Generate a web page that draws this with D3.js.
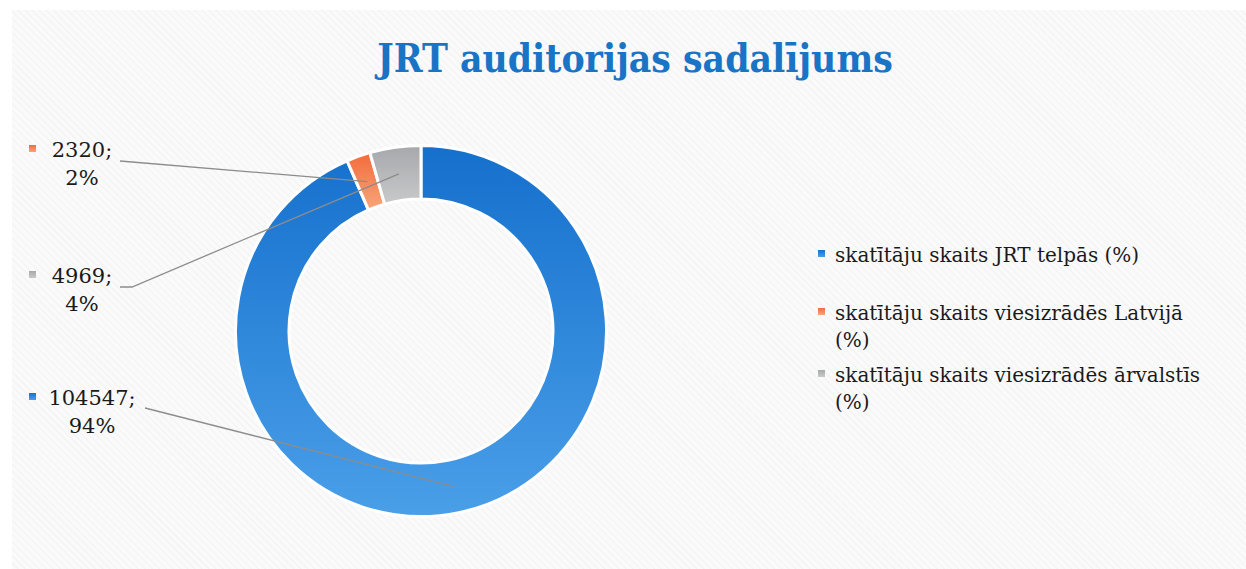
<!DOCTYPE html>
<html>
<head>
<meta charset="utf-8">
<script src="https://cdn.jsdelivr.net/npm/d3@7"></script>
<style>
  body { margin: 0; background: #ffffff; }
  svg { display: block; }
</style>
</head>
<body>
<script>
// data
var categories = [
    "skatītāju skaits JRT telpās (%)",
    "skatītāju skaits viesizrādēs Latvijā (%)",
    "skatītāju skaits viesizrādēs ārvalstīs (%)"
];
var values = [104547, 2320, 4969];
var percentLabels = ["94%", "2%", "4%"];
var legendLines = [
    ["skatītāju skaits JRT telpās (%)"],
    ["skatītāju skaits viesizrādēs Latvijā", "(%)"],
    ["skatītāju skaits viesizrādēs ārvalstīs", "(%)"]
];
var colorsTop = ["#1570cd", "#f26b3c", "#a7a8ab"];
var colorsBottom = ["#4a9fe8", "#f7a67a", "#c8c9cb"];

var w = 1246;
var h = 569;
var cx = 421, cy = 331;
var outerR = 185.5, innerR = 132;

var svg = d3.select("body").append("svg")
    .attr("width", w)
    .attr("height", h);

var defs = svg.append("defs");

// faint diagonal hatch like the scanned page
var pat = defs.append("pattern")
    .attr("id", "hatch")
    .attr("width", 5)
    .attr("height", 5)
    .attr("patternUnits", "userSpaceOnUse")
    .attr("patternTransform", "rotate(-45)");
pat.append("rect").attr("width", 5).attr("height", 5).attr("fill", "#fafafa");
pat.append("line")
    .attr("x1", 0).attr("y1", 0).attr("x2", 0).attr("y2", 5)
    .attr("stroke", "#f2f2f2").attr("stroke-width", 2);

svg.append("rect")
    .attr("x", 12).attr("y", 10)
    .attr("width", w - 12).attr("height", h - 10)
    .attr("fill", "url(#hatch)");

categories.forEach(function (c, i) {
    var g = defs.append("linearGradient")
        .attr("id", "grad" + i)
        .attr("x1", 0).attr("y1", 0).attr("x2", 0).attr("y2", 1);
    g.append("stop").attr("offset", "0%").attr("stop-color", colorsTop[i]);
    g.append("stop").attr("offset", "100%").attr("stop-color", colorsBottom[i]);
});

// title
svg.append("text")
    .attr("x", 635)
    .attr("y", 72)
    .attr("text-anchor", "middle")
    .attr("font-family", "DejaVu Serif Condensed, DejaVu Serif, serif")
    .attr("font-weight", "bold")
    .attr("font-size", "38.7px")
    .attr("fill", "#1a74c6")
    .text("JRT auditorijas sadalījums");

var pie = d3.pie().sort(null).value(function (d) { return d; });
var arcs = pie(values);
var arc = d3.arc().innerRadius(innerR).outerRadius(outerR);

var chart = svg.append("g").attr("transform", "translate(" + cx + "," + cy + ")");

chart.selectAll("path.slice")
    .data(arcs)
    .enter()
    .append("path")
    .attr("class", "slice")
    .attr("d", arc)
    .attr("fill", function (d, i) { return "url(#grad" + i + ")"; })
    .attr("stroke", "#ffffff")
    .attr("stroke-width", 3);

// data labels (position = layout only)
var labelPos = [
    { x: 92, y: 405, lx: 145, ly: 408, elbow: 0 },
    { x: 82, y: 157, lx: 120, ly: 161, elbow: 0 },
    { x: 82, y: 283, lx: 120, ly: 287, elbow: 12 }
];

var leaders = svg.append("g");
arcs.forEach(function (d, i) {
    var p = arc.centroid(d);
    var lp = labelPos[i];
    var path = d3.path();
    path.moveTo(lp.lx, lp.ly);
    if (lp.elbow) path.lineTo(lp.lx + lp.elbow, lp.ly);
    path.lineTo(cx + p[0], cy + p[1]);
    leaders.append("path")
        .attr("d", path.toString())
        .attr("fill", "none")
        .attr("stroke", "#8c8c8c")
        .attr("stroke-width", 1.3);
});

var labels = svg.append("g")
    .attr("font-family", "DejaVu Serif, serif")
    .attr("font-size", "21px")
    .attr("fill", "#1a1a1a");

arcs.forEach(function (d, i) {
    var lp = labelPos[i];
    var t = labels.append("text")
        .attr("text-anchor", "middle");
    t.append("tspan").attr("x", lp.x).attr("y", lp.y).text(values[i] + ";");
    t.append("tspan").attr("x", lp.x).attr("y", lp.y + 28).text(percentLabels[i]);
    labels.append("rect")
        .attr("x", 29)
        .attr("y", lp.y - 12)
        .attr("width", 7)
        .attr("height", 7)
        .attr("fill", "url(#grad" + i + ")");
});

// legend
var legendY = [262, 320, 382];
var legend = svg.append("g")
    .attr("font-family", "DejaVu Serif, serif")
    .attr("font-size", "20px")
    .attr("fill", "#1a1a1a");

legendLines.forEach(function (lines, i) {
    legend.append("rect")
        .attr("x", 818)
        .attr("y", legendY[i] - 12)
        .attr("width", 7)
        .attr("height", 7)
        .attr("fill", "url(#grad" + i + ")");
    var t = legend.append("text");
    lines.forEach(function (ln, j) {
        t.append("tspan")
            .attr("x", 835)
            .attr("y", legendY[i] + j * 27)
            .text(ln);
    });
});
</script>
</body>
</html>
